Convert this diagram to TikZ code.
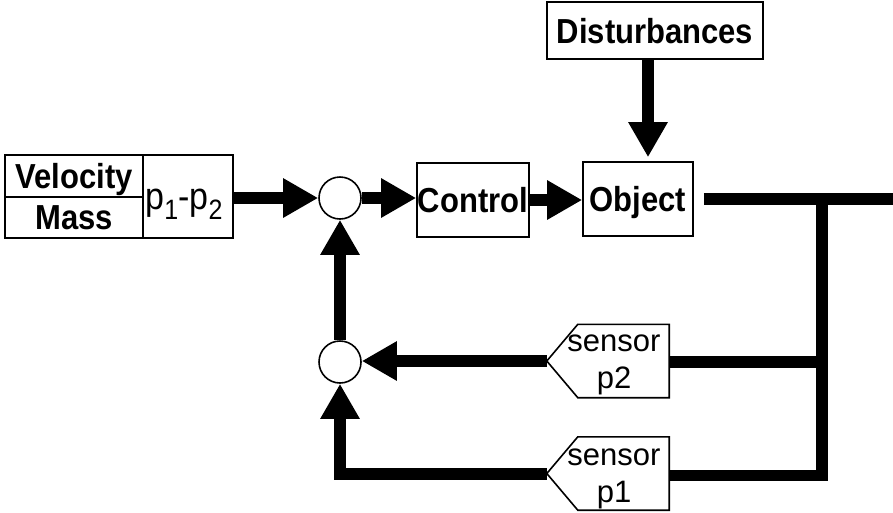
\documentclass[tikz,border=0pt]{standalone}
\usepackage{fontspec}
\setmainfont{Liberation Sans}
\usetikzlibrary{arrows.meta}
% labels are set slightly taller than the font's natural proportions
\newcommand\tallbox[1]{\scalebox{1}[1.12]{#1}}
\begin{document}
\begin{tikzpicture}[x=1pt,y=-1pt,
  txt/.style={font=\fontsize{31}{37}\selectfont},
  blk/.style={draw,line width=1.6pt,inner sep=0pt,text depth=0pt,font=\bfseries\fontsize{31}{37}\selectfont},
  sum/.style={circle,draw,line width=1.6pt,minimum size=42pt,inner sep=0pt},
  sensbox/.style={inner sep=0pt,minimum width=91pt,minimum height=73pt},
  flow/.style={line width=12pt,-{Triangle[length=35pt,width=37pt]}},
  wire/.style={line width=11.5pt}]
\useasboundingbox (0,0) rectangle (893,512);

% input block
\node[blk,minimum width=138pt,minimum height=42pt] (vel) at (74,176) {\tallbox{Velocity}};
\node[blk,minimum width=138pt,minimum height=41pt] (mass) at (74,217.5) {\tallbox{Mass}};
\node[blk,font=\fontsize{34}{40}\selectfont,minimum width=90pt,minimum height=83pt] (pp) at (188,196.5)
  {\raisebox{-5pt}{\tallbox{p\raisebox{-9pt}{\fontsize{25}{25}\selectfont 1}-p\raisebox{-9pt}{\fontsize{25}{25}\selectfont 2}}}\hspace*{8pt}};

% summing junctions
\node[sum] (c1) at (340,198) {};
\node[sum] (c2) at (340,362) {};

% forward path
\node[blk,minimum width=112pt,minimum height=74pt] (ctrl) at (473,200) {\tallbox{Control}};
\node[blk,minimum width=110pt,minimum height=74pt] (obj) at (638,199) {\tallbox{Object}};
\node[blk,minimum width=216pt,minimum height=57pt] (dist) at (655,30.5) {\tallbox{Disturbances}};

% sensors
\node[sensbox] (s2) at (623.5,361) {};
\node[sensbox] (s1) at (623.5,473.5) {};
\foreach \s in {s1,s2}{
  \draw[line width=1.6pt] (\s.north east) -- (\s.north west) -- ([xshift=-31pt]\s.west)
    -- (\s.south west) -- (\s.south east) -- cycle;
  \coordinate (\s tip) at ([xshift=-31pt]\s.west);
}
\node[txt,align=center,inner sep=0pt] (s2lbl) at (614,364.5) {sensor\\p2};
\node[txt,align=center,inner sep=0pt] (s1lbl) at (614,478.5) {sensor\\p1};

% output and feedback wiring
\coordinate (out) at (893,199);
\coordinate (jtop) at (822,199);
\draw[wire] ([xshift=10pt]obj.east) -- (out);
\draw[wire] ([yshift=-2pt]s1.east) -- ([yshift=-2pt]s1.east -| jtop) -- (jtop);
\draw[wire] ([yshift=-1pt]s2.east) -- ([yshift=-1pt]s2.east -| jtop);

% arrows
\draw[flow] (pp.east |- c1.west) -- (c1.west);
\draw[flow] (c1.east) -- (c1.east -| ctrl.west);
\draw[flow] (ctrl.east) -- (ctrl.east -| obj.west);
\draw[flow] ([xshift=-7pt]dist.south) -- ([xshift=10pt,yshift=4pt]obj.north);
\draw[flow] (s2tip) -- (s2tip -| c2.east);
\draw[flow] (s1tip) -| (c2.south);
\draw[flow] (c2.north) -- (c1.south);
\end{tikzpicture}
\end{document}
